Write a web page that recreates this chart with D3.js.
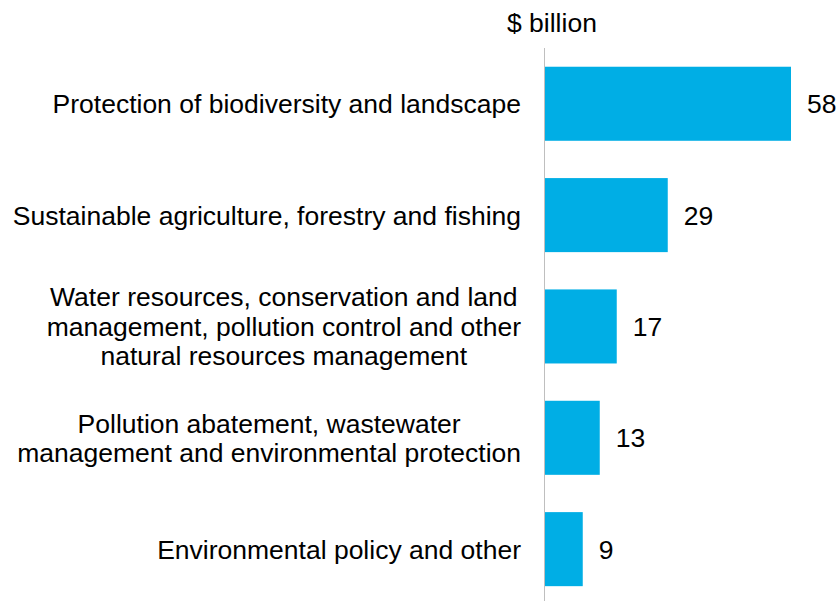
<!DOCTYPE html>
<html>
<head>
  <meta charset="UTF-8">
  <script src="https://d3js.org/d3.v7.min.js"></script>
  <style>
    body { margin: 0; background: #fff; }
    text { font-family: "Liberation Sans", Arial, sans-serif; fill: #000; }
  </style>
</head>
<body>
  <script>
    // chart data
    var categories = [
      ["Protection of biodiversity and landscape"],
      ["Sustainable agriculture, forestry and fishing"],
      ["Water resources, conservation and land", "management, pollution control and other", "natural resources management"],
      ["Pollution abatement, wastewater", "management and environmental protection"],
      ["Environmental policy and other"]
    ];
    var values = [58, 29, 17, 13, 9];
    var unitLabel = "$ billion";

    var width = 839;
    var height = 601;
    var svg = d3.select("body")
      .append("svg")
      .attr("width", width)
      .attr("height", height);

    var axisX = 544.5;
    var fontSize = 26.5;

    // scales
    var x = d3.scaleLinear()
      .domain([0, 58])
      .range([axisX, 791]);

    var y = d3.scaleBand()
      .domain(d3.range(values.length))
      .range([55.6, 597.3])
      .paddingInner(0.335)
      .paddingOuter(0.1);

    // unit title
    svg.append("text")
      .attr("x", 507)
      .attr("y", 32)
      .attr("font-size", fontSize)
      .text(unitLabel);

    // bars
    svg.selectAll("rect.bar")
      .data(values)
      .enter()
      .append("rect")
      .attr("class", "bar")
      .attr("x", x(0))
      .attr("y", function(d, i) { return y(i); })
      .attr("width", function(d) { return x(d) - x(0); })
      .attr("height", y.bandwidth())
      .attr("fill", "#00AEE5");

    // vertical axis line
    svg.append("line")
      .attr("x1", axisX)
      .attr("x2", axisX)
      .attr("y1", 48)
      .attr("y2", height)
      .attr("stroke", "#bfbfbf")
      .attr("stroke-width", 1);

    // value labels
    svg.selectAll("text.value")
      .data(values)
      .enter()
      .append("text")
      .attr("class", "value")
      .attr("x", function(d) { return x(d) + 16; })
      .attr("y", function(d, i) { return y(i) + y.bandwidth() / 2; })
      .attr("dy", "0.36em")
      .attr("font-size", fontSize)
      .text(function(d) { return d; });

    // category labels: lines centred on each other, block right-aligned
    var labelRight = 521;
    var lineH = 29.5;
    categories.forEach(function(lines, i) {
      var g = svg.append("g").attr("class", "cat");
      var cy = y(i) + y.bandwidth() / 2;
      var t = g.selectAll("text")
        .data(lines)
        .enter()
        .append("text")
        .attr("font-size", fontSize)
        .attr("text-anchor", "middle")
        .attr("y", function(d, j) { return cy + (j - (lines.length - 1) / 2) * lineH; })
        .attr("dy", "0.36em")
        .text(function(d) { return d; });
      var maxW = 0;
      t.each(function() { maxW = Math.max(maxW, this.getComputedTextLength()); });
      t.attr("x", labelRight - maxW / 2);
    });
  </script>
</body>
</html>
